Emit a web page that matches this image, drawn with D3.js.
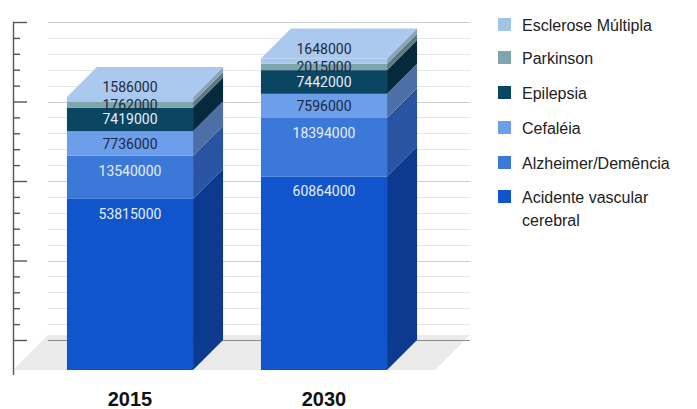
<!DOCTYPE html>
<html>
<head>
<meta charset="utf-8">
<script src="https://cdn.jsdelivr.net/npm/d3@7"></script>
<style>
  body { margin: 0; background: #fff; }
  svg { display: block; }
</style>
</head>
<body>
<div id="chart"></div>
<script>
// data
var years = ["2015", "2030"];
var series = ["Acidente vascular cerebral", "Alzheimer/Demência", "Cefaléia", "Epilepsia", "Parkinson", "Esclerose Múltipla"];
var avc = [53815000, 60864000];
var alzheimer = [13540000, 18394000];
var cefaleia = [7736000, 7596000];
var epilepsia = [7419000, 7442000];
var parkinson = [1762000, 2015000];
var esclerose = [1586000, 1648000];
var values = [avc, alzheimer, cefaleia, epilepsia, parkinson, esclerose];

var frontColors = ["#1155cc", "#3c78d8", "#6d9eeb", "#0a4562", "#7ea6ad", "#a7c7ed"];
var sideColors = ["#0c3a8e", "#2a54a2", "#4c6fa8", "#062a3c", "#5a7a80", "#8ca3bb"];
var labelColors = ["#e6eefb", "#e6eefb", "#1c2940", "#e6eefb", "#1c2940", "#1c2940"];

var W = 697, H = 409;
var dx = 30, dy = 30;           // bar depth
var base = 370;                 // front baseline

var svg = d3.select("#chart").append("svg")
    .attr("width", W)
    .attr("height", H);

var x = d3.scaleBand()
    .domain(years)
    .range([33, 421])
    .paddingInner(0.35)
    .paddingOuter(0.175);

var y = d3.scaleLinear()
    .domain([0, 100000000])
    .range([base, base - 318]);

// back wall values (shifted by depth)
var yBack = y.copy().range(y.range().map(v => v - dy));

// floor
svg.append("path")
    .attr("d", "M13," + base + "L48," + (base - 35) + "L470," + (base - 35) + "L435," + base + "Z")
    .attr("fill", "#ebebeb");

// gridlines
var gridVals = d3.range(5000000, 100000001, 5000000);
svg.append("g").selectAll("line")
    .data(gridVals)
    .join("line")
    .attr("x1", 48).attr("x2", 470)
    .attr("y1", d => Math.round(yBack(d)) + 0.5)
    .attr("y2", d => Math.round(yBack(d)) + 0.5)
    .attr("stroke", d => d % 25000000 === 0 ? "#cfcfcf" : "#e6e6e6");

svg.append("line")
    .attr("x1", 48).attr("x2", 470)
    .attr("y1", Math.round(yBack(0)) + 0.5)
    .attr("y2", Math.round(yBack(0)) + 0.5)
    .attr("stroke", "#8a8a8a")
    .attr("stroke-width", 1.2);

// left axis
var axisG = svg.append("g").attr("transform", "translate(13,0)");
var minorTicks = gridVals.filter(d => d % 25000000 !== 0);
var majorTicks = d3.range(0, 100000001, 25000000);
axisG.append("g")
    .call(d3.axisRight(yBack).tickValues(minorTicks).tickSize(7).tickFormat(""))
    .call(g => g.select(".domain").remove());
axisG.append("g")
    .call(d3.axisRight(yBack).tickValues(majorTicks).tickSize(14).tickFormat(""))
    .call(g => g.select(".domain").remove());
axisG.selectAll(".tick line").attr("stroke", "#555").attr("stroke-width", 1.4);
svg.append("line")
    .attr("x1", 13.5).attr("x2", 13.5)
    .attr("y1", yBack(100000000)).attr("y2", base + 5)
    .attr("stroke", "#555")
    .attr("stroke-width", 1.4);

// stacked segments
var segs = [];
years.forEach((yr, j) => {
    var acc = 0;
    values.forEach((arr, i) => {
        segs.push({ year: yr, i: i, v: arr[j], y0: acc, y1: acc + arr[j], last: i === values.length - 1 });
        acc += arr[j];
    });
});

var bars = svg.append("g");

bars.selectAll("path.side")
    .data(segs)
    .join("path")
    .attr("class", "side")
    .attr("fill", d => sideColors[d.i])
    .attr("d", d => {
        var xr = x(d.year) + x.bandwidth();
        var t = y(d.y1), b = y(d.y0);
        return "M" + xr + "," + b + "L" + (xr + dx) + "," + (b - dy) +
            "L" + (xr + dx) + "," + (t - dy) + "L" + xr + "," + t + "Z";
    });

bars.selectAll("rect.front")
    .data(segs)
    .join("rect")
    .attr("class", "front")
    .attr("x", d => x(d.year))
    .attr("width", x.bandwidth())
    .attr("y", d => y(d.y1))
    .attr("height", d => y(d.y0) - y(d.y1))
    .attr("fill", d => frontColors[d.i]);

bars.selectAll("path.top")
    .data(segs.filter(d => d.last))
    .join("path")
    .attr("class", "top")
    .attr("fill", "#abc9ee")
    .attr("d", d => {
        var xl = x(d.year), xr = xl + x.bandwidth(), t = y(d.y1);
        return "M" + xl + "," + t + "L" + (xl + dx) + "," + (t - dy) +
            "L" + (xr + dx) + "," + (t - dy) + "L" + xr + "," + t + "Z";
    });

// value labels
svg.append("g").selectAll("text")
    .data(segs)
    .join("text")
    .attr("x", d => x(d.year) + x.bandwidth() / 2)
    .attr("y", d => {
        var t = y(d.y1), h = y(d.y0) - y(d.y1);
        if (d.last) return t - 10;
        return t + Math.min(h / 2, 15);
    })
    .attr("dy", "0.36em")
    .attr("text-anchor", "middle")
    .attr("font-family", "Roboto, sans-serif")
    .attr("font-size", 14)
    .attr("fill", d => labelColors[d.i])
    .text(d => d.v);

// year labels
svg.append("g").selectAll("text")
    .data(years)
    .join("text")
    .attr("x", d => x(d) + x.bandwidth() / 2)
    .attr("y", 406)
    .attr("text-anchor", "middle")
    .attr("font-family", "Liberation Sans, Arial, sans-serif")
    .attr("font-weight", "bold")
    .attr("font-size", 20)
    .attr("fill", "#111")
    .text(d => d);

// legend
var legendRows = [
    { s: 5, lines: ["Esclerose Múltipla"], y: 25 },
    { s: 4, lines: ["Parkinson"], y: 58 },
    { s: 3, lines: ["Epilepsia"], y: 93 },
    { s: 2, lines: ["Cefaléia"], y: 128 },
    { s: 1, lines: ["Alzheimer/Demência"], y: 163 },
    { s: 0, lines: ["Acidente vascular", "cerebral"], y: 197 }
];
var legend = svg.append("g");
var item = legend.selectAll("g")
    .data(legendRows)
    .join("g")
    .attr("transform", d => "translate(498," + d.y + ")");
item.append("rect")
    .attr("x", 0).attr("y", -7)
    .attr("width", 13).attr("height", 13)
    .attr("fill", d => d.s === 5 ? "#9fc5e8" : frontColors[d.s]);
item.append("text")
    .attr("x", 24)
    .attr("font-family", "Liberation Sans, Arial, sans-serif")
    .attr("font-size", 16)
    .attr("fill", "#222")
    .selectAll("tspan")
    .data(d => d.lines)
    .join("tspan")
    .attr("x", 24)
    .attr("y", (d, k) => k * 23)
    .attr("dy", "0.35em")
    .text(d => d);
</script>
</body>
</html>
